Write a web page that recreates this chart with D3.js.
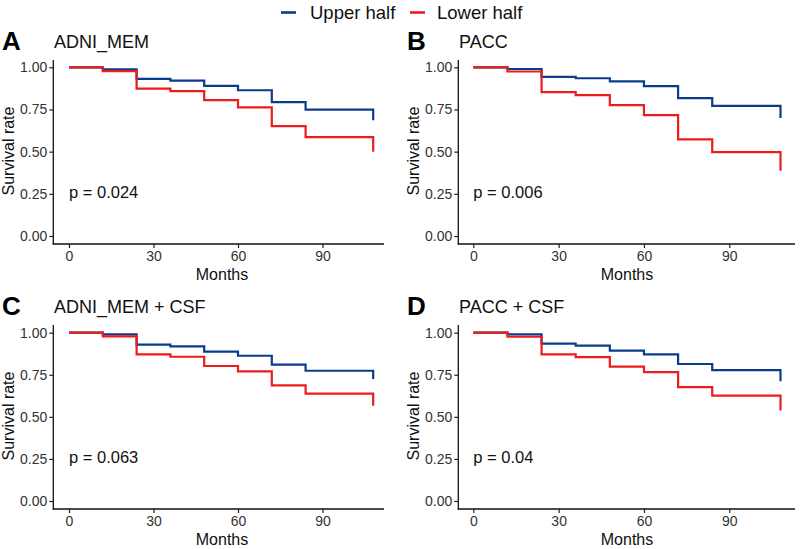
<!DOCTYPE html>
<html>
<head>
<meta charset="utf-8">
<script src="https://cdn.jsdelivr.net/npm/d3@7/dist/d3.min.js"></script>
<style>
  html, body { margin: 0; padding: 0; background: #fff; }
  svg { display: block; font-family: "Liberation Sans", Arial, Helvetica, sans-serif; }
</style>
</head>
<body>
<svg id="chart" width="800" height="549"></svg>
<script>
// ---------------- DATA ----------------
const times = [0, 12, 24, 36, 48, 60, 72, 84, 108];
const seriesNames = ["Upper half", "Lower half"];
const panelLetters = ["A", "B", "C", "D"];
const panelTitles = ["ADNI_MEM", "PACC", "ADNI_MEM + CSF", "PACC + CSF"];
const pValues = ["p = 0.024", "p = 0.006", "p = 0.063", "p = 0.04"];
const yTicks = [0, 0.25, 0.5, 0.75, 1];
const xTicks = [0, 30, 60, 90];

const upperA = [1, 0.988, 0.931, 0.921, 0.890, 0.864, 0.794, 0.749, 0.686];
const lowerA = [1, 0.977, 0.874, 0.859, 0.805, 0.762, 0.651, 0.586, 0.500];
const upperB = [1, 0.990, 0.943, 0.935, 0.916, 0.888, 0.817, 0.771, 0.700];
const lowerB = [1, 0.975, 0.853, 0.835, 0.776, 0.717, 0.573, 0.497, 0.387];
const upperC = [1, 0.990, 0.929, 0.919, 0.887, 0.863, 0.810, 0.774, 0.725];
const lowerC = [1, 0.978, 0.871, 0.857, 0.802, 0.770, 0.687, 0.638, 0.566];
const upperD = [1, 0.990, 0.935, 0.923, 0.893, 0.871, 0.814, 0.778, 0.711];
const lowerD = [1, 0.976, 0.871, 0.855, 0.798, 0.766, 0.677, 0.626, 0.537];

const upperSeries = [upperA, upperB, upperC, upperD];
const lowerSeries = [lowerA, lowerB, lowerC, lowerD];

// ---------------- STYLE / LAYOUT ----------------
const colors = ["#0B3C8C", "#ED1C1C"];
const cols = [
  { ox: 0,   yAxisX: 53.3,  x0: 69,    x90: 322.5, xEnd: 384 },
  { ox: 405, yAxisX: 458.3, x0: 473.3, x90: 729.3, xEnd: 795 }
];
const rows = [
  { oy: 0,   y1: 67.3,  y0: 236, axisY: 244, top: 60 },
  { oy: 265, y1: 332.7, y0: 501, axisY: 509, top: 325 }
];

const svg = d3.select("#chart");

// legend
const legend = svg.append("g");
const legItems = [
  { x1: 281, x2: 296, tx: 310 },
  { x1: 410, x2: 425, tx: 437 }
];
legItems.forEach((li, i) => {
  legend.append("line")
    .attr("x1", li.x1).attr("x2", li.x2).attr("y1", 12.5).attr("y2", 12.5)
    .attr("stroke", colors[i]).attr("stroke-width", 2.6);
  legend.append("text")
    .attr("x", li.tx).attr("y", 18.5)
    .attr("font-size", 18.5).attr("fill", "#111")
    .text(seriesNames[i]);
});

panelLetters.forEach((letter, k) => {
  const c = cols[k % 2], r = rows[Math.floor(k / 2)];
  const g = svg.append("g");

  const x = d3.scaleLinear().domain([0, 90]).range([c.x0, c.x90]);
  const y = d3.scaleLinear().domain([0, 1]).range([r.y0, r.y1]);

  // axis lines
  g.append("line").attr("x1", c.yAxisX).attr("x2", c.yAxisX)
    .attr("y1", r.top).attr("y2", r.axisY + 0.6)
    .attr("stroke", "#111").attr("stroke-width", 1.3);
  g.append("line").attr("x1", c.yAxisX - 0.6).attr("x2", c.xEnd)
    .attr("y1", r.axisY).attr("y2", r.axisY)
    .attr("stroke", "#111").attr("stroke-width", 1.3);

  // y axis
  const ya = g.append("g").attr("transform", `translate(${c.yAxisX},0)`)
    .call(d3.axisLeft(y).tickValues(yTicks).tickFormat(d3.format(".2f")).tickSize(4).tickPadding(2));
  ya.select(".domain").remove();
  ya.selectAll(".tick line").attr("stroke", "#222").attr("stroke-width", 1.2);
  ya.selectAll(".tick text").attr("font-size", 14).attr("fill", "#333")
    .attr("font-family", "Liberation Sans, Arial, sans-serif");

  // x axis
  const xa = g.append("g").attr("transform", `translate(0,${r.axisY})`)
    .call(d3.axisBottom(x).tickValues(xTicks).tickSize(4).tickPadding(3));
  xa.select(".domain").remove();
  xa.selectAll(".tick line").attr("stroke", "#222").attr("stroke-width", 1.2);
  xa.selectAll(".tick text").attr("font-size", 14).attr("fill", "#333")
    .attr("font-family", "Liberation Sans, Arial, sans-serif");

  // curves
  const line = d3.line().x(d => x(d[0])).y(d => y(d[1])).curve(d3.curveStepAfter);
  [upperSeries[k], lowerSeries[k]].forEach((vals, si) => {
    const pts = times.map((t, i) => [t, vals[i]]);
    g.append("path").attr("d", line(pts))
      .attr("fill", "none").attr("stroke", colors[si])
      .attr("stroke-width", 2.2).attr("stroke-linejoin", "miter").attr("stroke-linecap", "butt");
  });

  // texts
  g.append("text").attr("x", c.ox + 2).attr("y", r.oy + 50)
    .attr("font-size", 26).attr("font-weight", "bold").attr("fill", "#000").text(letter);
  g.append("text").attr("x", c.ox + 54).attr("y", r.oy + 47.5)
    .attr("font-size", 18).attr("fill", "#111").text(panelTitles[k]);
  g.append("text").attr("x", x(0)).attr("y", r.oy + 197.5)
    .attr("font-size", 16.5).attr("fill", "#111").text(pValues[k]);
  g.append("text").attr("transform", `translate(${c.ox + 13.5},${r.oy + 151}) rotate(-90)`)
    .attr("text-anchor", "middle").attr("font-size", 16).attr("fill", "#111").text("Survival rate");
  g.append("text").attr("x", c.ox + 222).attr("y", r.oy + 280)
    .attr("text-anchor", "middle").attr("font-size", 16).attr("fill", "#111").text("Months");
});
</script>
</body>
</html>
